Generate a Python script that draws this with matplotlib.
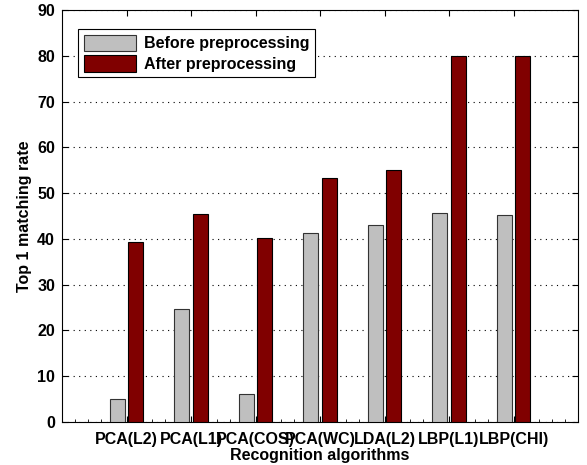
import matplotlib
matplotlib.use("Agg")
import matplotlib.pyplot as plt
import numpy as np
from matplotlib.ticker import MultipleLocator

categories = ["PCA(L2)", "PCA(L1)", "PCA(COS)", "PCA(WC)", "LDA(L2)", "LBP(L1)", "LBP(CHI)"]
before = [5.0, 24.7, 6.1, 41.2, 43.0, 45.7, 45.2]
after = [39.3, 45.4, 40.3, 53.3, 55.0, 80.0, 80.0]
yticks = list(range(0, 91, 10))

plt.rcParams['font.family'] = ['Liberation Sans', 'DejaVu Sans']
plt.rcParams['font.weight'] = 'bold'

fs = 11.5
fig = plt.figure(figsize=(5.87, 4.65), dpi=100)
ax = fig.add_axes([62/587, 1-422/465, 516/587, 412/465])

x = np.arange(1, len(categories)+1)
w = 0.23
ax.bar(x - 0.145, before, w, color=(0.75, 0.75, 0.75), edgecolor=(0.2, 0.2, 0.2), linewidth=0.8, label='Before preprocessing', zorder=3)
ax.bar(x + 0.145, after, w, color=(0.5, 0, 0), edgecolor='black', linewidth=0.8, label='After preprocessing', zorder=3)

ax.set_xlim(0, 8)
ax.set_ylim(0, 90)
ax.set_xticks(x)
ax.set_xticklabels(categories, fontsize=fs, fontweight='bold')
ax.set_yticks(yticks)
ax.set_yticklabels([str(t) for t in yticks], fontsize=fs, fontweight='bold')
ax.xaxis.set_minor_locator(MultipleLocator(0.2))
ax.tick_params(which='both', direction='in', top=True, right=True)
ax.tick_params(which='major', length=4)
ax.tick_params(axis='x', which='major', pad=7)
ax.tick_params(axis='y', which='major', pad=5)
ax.tick_params(which='minor', length=2, top=False)
ax.yaxis.grid(True, linestyle=(0, (1, 4)), color='black', linewidth=0.8)
ax.set_axisbelow(True)

ax.set_xlabel('Recognition algorithms', fontsize=fs, fontweight='bold', labelpad=1)
ax.set_ylabel('Top 1 matching rate', fontsize=fs, fontweight='bold', labelpad=4)

leg = ax.legend(loc='upper left', bbox_to_anchor=(16/516, 1-19/412), fontsize=fs,
                frameon=True, fancybox=False, edgecolor='black', framealpha=1,
                handlelength=3.3, handleheight=1.2, borderpad=0.35, labelspacing=0.25,
                borderaxespad=0, handletextpad=0.5)
leg.get_frame().set_linewidth(0.8)

fig.savefig('out.png', dpi=100)
